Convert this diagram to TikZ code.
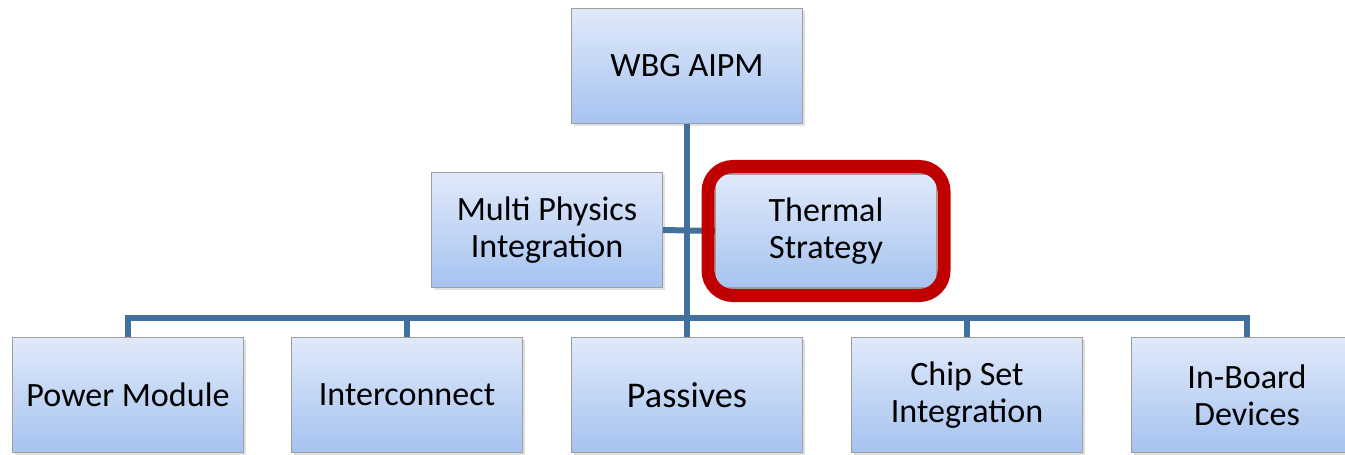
\documentclass[tikz,border=0pt]{standalone}
\usepackage{fontspec}
\setmainfont{Carlito}
\usetikzlibrary{positioning,fit,shadows}
\definecolor{linkblue}{RGB}{66,112,158}
\definecolor{boxtop}{RGB}{224,233,250}
\definecolor{boxbot}{RGB}{166,195,240}
\definecolor{hired}{RGB}{192,0,0}

\begin{document}
\begin{tikzpicture}[x=0.02cm,y=-0.02cm,
  box/.style={draw=black!38,line width=0.6pt,top color=boxtop,bottom color=boxbot,
    minimum width=4.62cm,minimum height=2.3cm,align=center,inner sep=2pt,
    font=\fontsize{19.4}{21}\selectfont,
    drop shadow={opacity=0.25,shadow xshift=1.2pt,shadow yshift=-1.2pt}},
  link/.style={draw=linkblue,line width=0.12cm},
  hilite/.style={draw=hired,line width=0.26cm,rounded corners=0.5cm,inner sep=0.14cm}]
  \useasboundingbox (0,0) rectangle (1345,454);
  \clip (0,0) rectangle (1345,454);
  % top and middle row
  \node[box] (aipm) at (687,66) {WBG AIPM};
  \node[box] (multi) at (547,230) {Multi Physics\\Integration};
  \node[box,minimum width=4.42cm,minimum height=2.28cm] (thermal) at (826,231) {Thermal\\Strategy};
  % bottom row
  \foreach \nm/\xx/\fs/\lab in
      {power/128/19.4/{Power Module}, inter/407/19.4/{Interconnect}, pass/687/20.6/{Passives},
       chip/967/19.4/{Chip Set\\Integration}, board/1247/19.4/{In-Board\\Devices}}{
    \node[box,font=\fontsize{\fs}{21}\selectfont] (\nm) at (\xx,395) {\lab};
  }
  % connectors
  \coordinate (bus) at (687,318);
  \draw[link] (aipm.south) -- (pass.north);
  \draw[link] (multi.east) -- (thermal.west);
  \draw[link] (power.north) |- (bus) -| (board.north);
  \draw[link] (inter.north) -- (inter.north |- bus);
  \draw[link] (chip.north) -- (chip.north |- bus);
  % highlight
  \node[hilite,fit=(thermal)] (frame) {};
\end{tikzpicture}
\end{document}
